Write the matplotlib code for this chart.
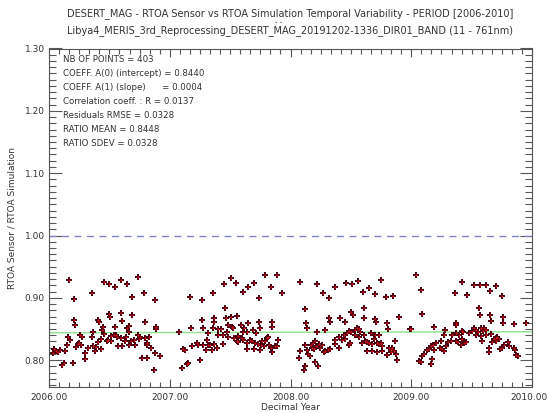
import numpy as np
import matplotlib
matplotlib.use("Agg")
import matplotlib.pyplot as plt
import matplotlib.transforms as mtransforms
from matplotlib.ticker import MultipleLocator, FormatStrFormatter

# (decimal year, RTOA sensor / RTOA simulation)
pts_2006 = [
    (2006.035, 0.812), (2006.045, 0.818), (2006.055, 0.815), (2006.166, 0.928), (2006.359, 0.908),
    (2006.207, 0.898), (2006.453, 0.926), (2006.495, 0.923), (2006.550, 0.918), (2006.594, 0.928),
    (2006.644, 0.923), (2006.740, 0.933), (2006.688, 0.902), (2006.784, 0.908), (2006.878, 0.897),
    (2006.207, 0.865), (2006.219, 0.856), (2006.406, 0.865), (2006.412, 0.862), (2006.497, 0.874),
    (2006.506, 0.869), (2006.594, 0.876), (2006.602, 0.863), (2006.688, 0.873), (2006.660, 0.855),
    (2006.649, 0.851), (2006.793, 0.862), (2006.889, 0.853), (2006.884, 0.850), (2006.544, 0.853),
    (2006.450, 0.853), (2006.442, 0.848), (2006.161, 0.838), (2006.177, 0.832), (2006.152, 0.825),
    (2006.260, 0.840), (2006.276, 0.838), (2006.249, 0.828), (2006.241, 0.826), (2006.268, 0.825),
    (2006.354, 0.838), (2006.365, 0.846), (2006.428, 0.834), (2006.456, 0.842), (2006.483, 0.831),
    (2006.511, 0.839), (2006.536, 0.841), (2006.558, 0.840), (2006.566, 0.838), (2006.594, 0.836),
    (2006.517, 0.830), (2006.489, 0.832), (2006.635, 0.838), (2006.660, 0.846), (2006.682, 0.831),
    (2006.704, 0.832), (2006.737, 0.841), (2006.748, 0.834), (2006.757, 0.838), (2006.798, 0.836),
    (2006.826, 0.837), (2006.809, 0.828), (2006.815, 0.824), (2006.848, 0.820), (2006.409, 0.829),
    (2006.390, 0.821), (2006.379, 0.814), (2006.365, 0.822), (2006.323, 0.820), (2006.428, 0.818),
    (2006.221, 0.821), (2006.296, 0.811), (2006.296, 0.802), (2006.199, 0.795), (2006.122, 0.795),
    (2006.108, 0.792), (2006.075, 0.813), (2006.089, 0.817), (2006.136, 0.814), (2006.572, 0.823),
    (2006.605, 0.822), (2006.627, 0.830), (2006.666, 0.825), (2006.710, 0.824), (2006.773, 0.803),
    (2006.875, 0.811), (2006.922, 0.807), (2006.867, 0.784), (2006.809, 0.803),
]
pts_2007 = [
    (2007.168, 0.901), (2007.264, 0.897), (2007.361, 0.908), (2007.452, 0.923), (2007.507, 0.932),
    (2007.549, 0.924), (2007.604, 0.909), (2007.645, 0.918), (2007.695, 0.924), (2007.742, 0.899),
    (2007.791, 0.936), (2007.838, 0.917), (2007.885, 0.937), (2007.932, 0.908), (2007.458, 0.883),
    (2007.264, 0.865), (2007.366, 0.867), (2007.366, 0.861), (2007.466, 0.868), (2007.507, 0.869),
    (2007.557, 0.871), (2007.173, 0.851), (2007.278, 0.851), (2007.358, 0.852), (2007.402, 0.850),
    (2007.422, 0.850), (2007.077, 0.846), (2007.471, 0.846), (2007.485, 0.857), (2007.513, 0.854),
    (2007.527, 0.851), (2007.590, 0.857), (2007.612, 0.851), (2007.651, 0.859), (2007.689, 0.849),
    (2007.717, 0.843), (2007.742, 0.862), (2007.750, 0.852), (2007.844, 0.862), (2007.844, 0.853),
    (2007.609, 0.846), (2007.637, 0.846), (2007.320, 0.843), (2007.306, 0.833), (2007.402, 0.841),
    (2007.444, 0.841), (2007.485, 0.838), (2007.535, 0.836), (2007.568, 0.839), (2007.596, 0.835),
    (2007.554, 0.831), (2007.562, 0.829), (2007.609, 0.832), (2007.637, 0.827), (2007.665, 0.833),
    (2007.684, 0.830), (2007.706, 0.827), (2007.733, 0.826), (2007.756, 0.824), (2007.767, 0.830),
    (2007.789, 0.831), (2007.802, 0.835), (2007.816, 0.838), (2007.783, 0.822), (2007.822, 0.825),
    (2007.838, 0.819), (2007.849, 0.813), (2007.885, 0.822), (2007.899, 0.833), (2007.871, 0.823),
    (2007.747, 0.817), (2007.700, 0.818), (2007.637, 0.818), (2007.226, 0.827), (2007.237, 0.825),
    (2007.275, 0.825), (2007.182, 0.823), (2007.320, 0.824), (2007.333, 0.825), (2007.369, 0.826),
    (2007.444, 0.826), (2007.297, 0.817), (2007.347, 0.816), (2007.389, 0.819), (2007.113, 0.818),
    (2007.126, 0.817), (2007.154, 0.795), (2007.143, 0.794), (2007.251, 0.801), (2007.104, 0.787),
]
pts_2008 = [
    (2008.081, 0.925), (2008.222, 0.923), (2008.272, 0.907), (2008.316, 0.900), (2008.366, 0.917),
    (2008.462, 0.924), (2008.509, 0.923), (2008.559, 0.927), (2008.600, 0.910), (2008.653, 0.916),
    (2008.697, 0.906), (2008.752, 0.929), (2008.794, 0.902), (2008.846, 0.903), (2008.123, 0.882),
    (2008.128, 0.859), (2008.137, 0.852), (2008.316, 0.867), (2008.324, 0.861), (2008.413, 0.867),
    (2008.454, 0.862), (2008.504, 0.878), (2008.518, 0.872), (2008.609, 0.883), (2008.611, 0.867),
    (2008.702, 0.866), (2008.711, 0.861), (2008.799, 0.859), (2008.805, 0.850), (2008.896, 0.869),
    (2008.992, 0.850), (2008.222, 0.846), (2008.283, 0.848), (2008.468, 0.843), (2008.482, 0.847),
    (2008.504, 0.845), (2008.537, 0.849), (2008.551, 0.852), (2008.564, 0.850), (2008.578, 0.846),
    (2008.537, 0.840), (2008.564, 0.838), (2008.606, 0.840), (2008.669, 0.843), (2008.702, 0.840),
    (2008.735, 0.840), (2008.440, 0.841), (2008.399, 0.838), (2008.366, 0.833), (2008.426, 0.833),
    (2008.448, 0.834), (2008.495, 0.827), (2008.487, 0.825), (2008.592, 0.827), (2008.614, 0.830),
    (2008.633, 0.829), (2008.653, 0.828), (2008.675, 0.826), (2008.716, 0.828), (2008.735, 0.826),
    (2008.758, 0.822), (2008.689, 0.834), (2008.752, 0.827), (2008.813, 0.820), (2008.829, 0.817),
    (2008.840, 0.819), (2008.857, 0.815), (2008.868, 0.830), (2008.876, 0.810), (2008.835, 0.813),
    (2008.799, 0.809), (2008.884, 0.801), (2008.631, 0.815), (2008.675, 0.814), (2008.716, 0.813),
    (2008.758, 0.814), (2008.371, 0.826), (2008.399, 0.820), (2008.330, 0.818), (2008.310, 0.816),
    (2008.288, 0.815), (2008.275, 0.813), (2008.247, 0.819), (2008.261, 0.825), (2008.233, 0.826),
    (2008.200, 0.831), (2008.184, 0.827), (2008.173, 0.825), (2008.211, 0.822), (2008.178, 0.820),
    (2008.192, 0.818), (2008.123, 0.825), (2008.137, 0.817), (2008.145, 0.810), (2008.164, 0.807),
    (2008.081, 0.814), (2008.073, 0.804), (2008.117, 0.791), (2008.109, 0.784), (2008.200, 0.797),
    (2008.228, 0.791),
]
pts_2009 = [
    (2009.036, 0.937), (2009.083, 0.912), (2009.086, 0.874), (2008.995, 0.850), (2009.188, 0.853),
    (2009.362, 0.908), (2009.417, 0.925), (2009.461, 0.904), (2009.516, 0.921), (2009.566, 0.921),
    (2009.616, 0.921), (2009.654, 0.911), (2009.704, 0.919), (2009.751, 0.903), (2009.561, 0.883),
    (2009.566, 0.873), (2009.654, 0.873), (2009.660, 0.863), (2009.757, 0.869), (2009.762, 0.860),
    (2009.853, 0.858), (2009.950, 0.860), (2009.367, 0.860), (2009.373, 0.856), (2009.279, 0.848),
    (2009.274, 0.840), (2009.417, 0.847), (2009.428, 0.846), (2009.478, 0.843), (2009.522, 0.852),
    (2009.533, 0.849), (2009.574, 0.851), (2009.602, 0.852), (2009.621, 0.849), (2009.550, 0.846),
    (2009.594, 0.847), (2009.500, 0.847), (2009.367, 0.843), (2009.395, 0.840), (2009.423, 0.834),
    (2009.340, 0.840), (2009.326, 0.830), (2009.307, 0.829), (2009.367, 0.830), (2009.389, 0.829),
    (2009.409, 0.825), (2009.436, 0.827), (2009.456, 0.829), (2009.533, 0.840), (2009.574, 0.839),
    (2009.621, 0.841), (2009.657, 0.842), (2009.685, 0.834), (2009.699, 0.836), (2009.712, 0.838),
    (2009.726, 0.834), (2009.671, 0.829), (2009.704, 0.830), (2009.770, 0.825), (2009.798, 0.829),
    (2009.809, 0.822), (2009.748, 0.820), (2009.732, 0.818), (2009.850, 0.820), (2009.864, 0.809),
    (2009.886, 0.807), (2009.859, 0.816), (2009.643, 0.819), (2009.643, 0.813), (2009.588, 0.830),
    (2009.243, 0.830), (2009.235, 0.820), (2009.202, 0.827), (2009.180, 0.825), (2009.160, 0.822),
    (2009.147, 0.818), (2009.188, 0.817), (2009.257, 0.818), (2009.285, 0.822), (2009.133, 0.817),
    (2009.105, 0.810), (2009.086, 0.807), (2009.169, 0.802), (2009.064, 0.799), (2009.078, 0.797),
    (2009.160, 0.794), (2009.271, 0.815),
]

stats_lines = [
    "NB OF POINTS = 403",
    "COEFF. A(0) (intercept) = 0.8440",
    "COEFF. A(1) (slope)      = 0.0004",
    "Correlation coeff. : R = 0.0137",
    "Residuals RMSE = 0.0328",
    "RATIO MEAN = 0.8448",
    "RATIO SDEV = 0.0328",
]
intercept = 0.8440
slope = 0.0004
x_ticks = [2006.0, 2007.0, 2008.0, 2009.0, 2010.0]

title1 = "DESERT_MAG - RTOA Sensor vs RTOA Simulation Temporal Variability - PERIOD [2006-2010]"
title2 = "Libya4_MERIS_3rd_Reprocessing_DESERT_MAG_20191202-1336_DIR01_BAND (11 - 761nm)"

pts = np.array(pts_2006 + pts_2007 + pts_2008 + pts_2009)
t, ratio = pts[:, 0], pts[:, 1]

fig = plt.figure(figsize=(5.47, 4.13), dpi=100)
ax = fig.add_axes([49 / 547, 1 - 387 / 413, 483 / 547, 338.5 / 413])

ax.axhline(1.0, color="#8080c8", lw=1.0, ls=(0, (5, 4)))
t_fit = np.array([2006.0, 2010.0])
ax.plot(t_fit, intercept + slope * (t_fit - 2006.0), color="#90e090", lw=1.0)

# dark cross with a red centre, as in the reference
ax.plot(t, ratio, ls="none", marker="+", ms=4.2, mew=1.4, color="#4a0010")
ax.plot(t, ratio, ls="none", marker="+", ms=2.0, mew=0.7, color="#e01010")

ax.set_xlim(2006.0, 2010.0)
ax.set_ylim(0.757, 1.30)
ax.set_xticks(x_ticks)
ax.xaxis.set_minor_locator(MultipleLocator(1 / 12))
ax.yaxis.set_major_locator(MultipleLocator(0.1))
ax.yaxis.set_minor_locator(MultipleLocator(0.01))
ax.xaxis.set_major_formatter(FormatStrFormatter("%.2f"))
ax.yaxis.set_major_formatter(FormatStrFormatter("%.2f"))

ax.tick_params(which="both", direction="in", top=True, right=True, colors="#555555",
               labelcolor="#333333", labelsize=6.5, width=0.8)
ax.tick_params(axis="x", which="major", length=6, pad=4)
ax.tick_params(axis="x", which="minor", length=3.5)
ax.tick_params(axis="y", which="major", length=9, pad=3)
ax.tick_params(axis="y", which="minor", length=5)
for sp in ax.spines.values():
    sp.set_color("#555555")
    sp.set_linewidth(0.8)

# nudge the last year label so it stays inside the figure
last_lbl = ax.get_xticklabels()[-1]
last_lbl.set_transform(last_lbl.get_transform()
                       + mtransforms.ScaledTranslation(-3 / 100, 0, fig.dpi_scale_trans))

ax.set_xlabel("Decimal Year", fontsize=6.5, color="#333333", labelpad=1)
ax.set_ylabel("RTOA Sensor / RTOA Simulation", fontsize=6.5, color="#333333", labelpad=6)

for i, line in enumerate(stats_lines):
    fig.text(63 / 547, 1 - (60 + 14 * i) / 413, line, fontsize=6.2, color="#333333", va="center")

fig.text(290 / 547, 1 - 14 / 413, title1, fontsize=7, ha="center", va="center", color="#333333")
fig.text(279 / 547, 1 - 22 / 413, "- -", fontsize=5, ha="center", va="center", color="#333333")
fig.text(290 / 547, 1 - 31 / 413, title2, fontsize=7, ha="center", va="center", color="#333333")

fig.savefig("out.png", dpi=100)
